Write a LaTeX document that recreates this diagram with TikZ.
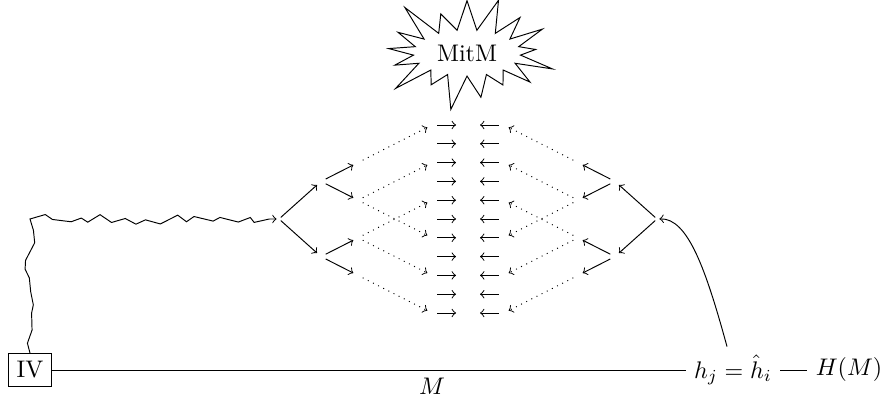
\documentclass[tikz,border=0pt]{standalone}
\usetikzlibrary{shapes.symbols,decorations.pathmorphing}
\begin{document}
\begin{tikzpicture}[x=0.4167pt,y=-0.4167pt,
  pt/.style={circle,inner sep=0pt,minimum size=4pt},
  rootpt/.style={circle,inner sep=0pt,minimum size=1.6pt},
  treeedge/.style={->},
  dotedge/.style={->,dotted},
  zig/.style={->,decorate,decoration={random steps,segment length=5pt,amplitude=2.2pt,post length=3pt}}]
\useasboundingbox (0,0) rectangle (883,403);

% middle columns
\foreach \k in {0,...,10}{
  \pgfmathsetmacro\yy{125+18.8*\k}
  \node[pt] (l\k) at (432,\yy) {};
  \coordinate (le\k) at (456,\yy);
  \node[pt] (r\k) at (504,\yy) {};
  \coordinate (re\k) at (480,\yy);
  \draw[->] (l\k) -- (le\k);
  \draw[->] (r\k) -- (re\k);
}

% left tree
\node[rootpt] (L0) at (279,219) {};
\node[pt] (L1a) at (321,181.4) {};
\node[pt] (L1b) at (321,256.6) {};
\node[pt] (L2a) at (358,162.6) {};
\node[pt] (L2b) at (358,200.2) {};
\node[pt] (L2c) at (358,237.8) {};
\node[pt] (L2d) at (358,275.4) {};
\draw[treeedge] (L0) -- (L1a);
\draw[treeedge] (L0) -- (L1b);
\draw[treeedge] (L1a) -- (L2a);
\draw[treeedge] (L1a) -- (L2b);
\draw[treeedge] (L1b) -- (L2c);
\draw[treeedge] (L1b) -- (L2d);
\draw[dotedge] (L2a) -- (l0);
\draw[dotedge] (L2b) -- (l2);
\draw[dotedge] (L2b) -- (l6);
\draw[dotedge] (L2c) -- (l4);
\draw[dotedge] (L2c) -- (l8);
\draw[dotedge] (L2d) -- (l10);

% right tree
\node[rootpt] (R0) at (657,219) {};
\node[pt] (R1a) at (615,181.4) {};
\node[pt] (R1b) at (615,256.6) {};
\node[pt] (R2a) at (578,162.6) {};
\node[pt] (R2b) at (578,200.2) {};
\node[pt] (R2c) at (578,237.8) {};
\node[pt] (R2d) at (578,275.4) {};
\draw[treeedge] (R0) -- (R1a);
\draw[treeedge] (R0) -- (R1b);
\draw[treeedge] (R1a) -- (R2a);
\draw[treeedge] (R1a) -- (R2b);
\draw[treeedge] (R1b) -- (R2c);
\draw[treeedge] (R1b) -- (R2d);
\draw[dotedge] (R2a) -- (r0);
\draw[dotedge] (R2b) -- (r2);
\draw[dotedge] (R2b) -- (r6);
\draw[dotedge] (R2c) -- (r4);
\draw[dotedge] (R2c) -- (r8);
\draw[dotedge] (R2d) -- (r10);

% MitM
\node[starburst,draw,starburst point height=17pt] (mitm) at (467,53) {MitM};

% bottom line
\node[draw] (iv) at (30,370) {IV};
\node (hj) at (733,370) {$h_j = \hat{h}_i$};
\node (hm) at (849,370) {$H(M)$};
\draw (iv) -- node[pos=0.6,below] (mlab) {$M$} (hj);
\draw (hj) -- (hm);
\draw[->] ([xshift=-2.5pt]hj.north) .. controls (706,270) and (688,218) .. (R0);
\draw[zig] (iv.north) |- (L0);
\end{tikzpicture}
\end{document}
